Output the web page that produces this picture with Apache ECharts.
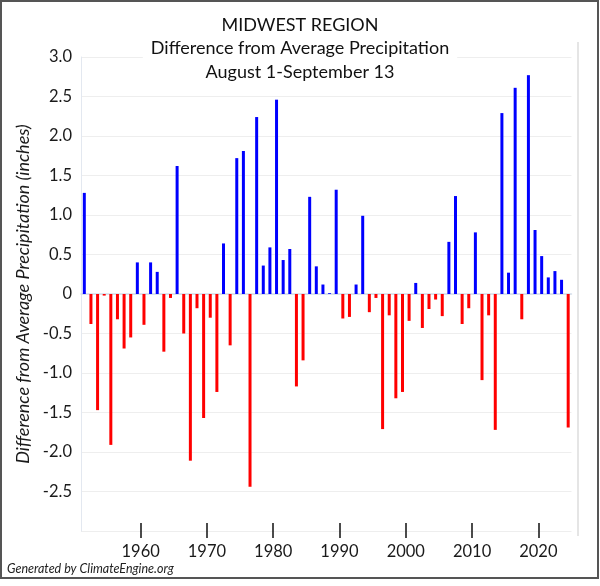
<!DOCTYPE html>
<html><head><meta charset="utf-8">
<script src="https://cdn.jsdelivr.net/npm/echarts@6/dist/echarts.min.js"></script>
<style>html,body{margin:0;padding:0;background:#fff}#c{width:600px;height:586px}</style>
</head><body><div id="c"></div>
<script>
const years = [1951,1952,1953,1954,1955,1956,1957,1958,1959,1960,
  1961,1962,1963,1964,1965,1966,1967,1968,1969,1970,
  1971,1972,1973,1974,1975,1976,1977,1978,1979,1980,
  1981,1982,1983,1984,1985,1986,1987,1988,1989,1990,
  1991,1992,1993,1994,1995,1996,1997,1998,1999,2000,
  2001,2002,2003,2004,2005,2006,2007,2008,2009,2010,
  2011,2012,2013,2014,2015,2016,2017,2018,2019,2020,
  2021,2022,2023,2024];
const precipDiff = [1.28,-0.38,-1.47,-0.02,-1.91,-0.32,-0.69,-0.55,0.40,-0.39,
  0.40,0.28,-0.73,-0.05,1.62,-0.50,-2.11,-0.18,-1.57,-0.30,
  -1.24,0.64,-0.65,1.72,1.81,-2.44,2.24,0.36,0.59,2.46,
  0.43,0.57,-1.17,-0.84,1.23,0.35,0.12,0.01,1.32,-0.31,
  -0.29,0.12,0.99,-0.23,-0.05,-1.71,-0.27,-1.32,-1.24,-0.34,
  0.14,-0.43,-0.19,-0.07,-0.28,0.66,1.24,-0.38,-0.18,0.78,
  -1.09,-0.27,-1.72,2.29,0.27,2.61,-0.32,2.77,0.81,0.48,
  0.21,0.29,0.18,-1.69];
const xTickYears = [1960,1970,1980,1990,2000,2010,2020];
const titleLines = ['MIDWEST REGION','Difference from Average Precipitation','August 1-September 13'];
const yAxisTitle = 'Difference from Average Precipitation (inches)';
const footerText = 'Generated by ClimateEngine.org';

const FONT = 'Lato';
const chart = echarts.init(document.getElementById('c'), null, {renderer:'canvas'});
const firstYear = years[0], lastYear = years[years.length-1];
const tickAxis = (inside, len, showLabel) => ({
  type:'value', min:firstYear, max:lastYear+1, position:'bottom', gridIndex:0,
  axisLine:{show:false},
  axisTick:{show:true, inside:inside, length:len, customValues:xTickYears, lineStyle:{color:'#111', width:1.5}},
  axisLabel:{show:showLabel, customValues:xTickYears, formatter:v=>String(v), fontFamily:FONT, fontSize:16.5, color:'#1a1a1a', margin:12},
  splitLine:{show:false}
});
chart.setOption({
  animation:false,
  backgroundColor:'#fff',
  title:[
    {text:titleLines.join('\n'), left:'center', top:12, padding:[1,8,4,8], backgroundColor:'#fff',
     textStyle:{fontFamily:FONT, fontSize:18, fontWeight:'normal', color:'#111', lineHeight:23.5}},
    {text:footerText, left:7, top:562, padding:0,
     textStyle:{fontFamily:FONT, fontSize:12.5, fontStyle:'italic', fontWeight:'normal', color:'#222'}}
  ],
  grid:{left:81, right:28.5, top:57, bottom:55, containLabel:false},
  xAxis:[
    {type:'category', data:years, boundaryGap:true, position:'bottom',
     axisLine:{show:true, lineStyle:{color:'#d5deeb', width:1.5}},
     axisTick:{show:false}, axisLabel:{show:false}, splitLine:{show:false}},
    tickAxis(true, 8, true),
    tickAxis(false, 7, false)
  ],
  yAxis:{type:'value', min:-3, max:3, interval:0.5,
    axisLine:{show:true, lineStyle:{color:'#e3e8f0'}},
    axisTick:{show:false},
    axisLabel:{showMinLabel:false, formatter:v=> v===0 ? '0' : v.toFixed(1), fontFamily:FONT, fontSize:16.5, color:'#1a1a1a', margin:9},
    splitLine:{lineStyle:{color:'#eeeeee'}},
    name:yAxisTitle, nameLocation:'middle', nameGap:47,
    nameTextStyle:{fontFamily:FONT, fontStyle:'italic', fontSize:18, color:'#1a1a1a'}},
  series:[{type:'bar', xAxisIndex:0, data:precipDiff, barWidth:3,
    itemStyle:{color:p=> p.value>=0 ? '#0000ff' : '#ff0000'}}],
  graphic:[
    {type:'rect', shape:{x:1, y:1, width:597, height:577}, style:{fill:null, stroke:'#555', lineWidth:2}, silent:true},
    {type:'line', shape:{x1:578, y1:42, x2:578, y2:536}, style:{stroke:'#dcdcdc', lineWidth:1.5}, silent:true}
  ]
});
</script></body></html>
